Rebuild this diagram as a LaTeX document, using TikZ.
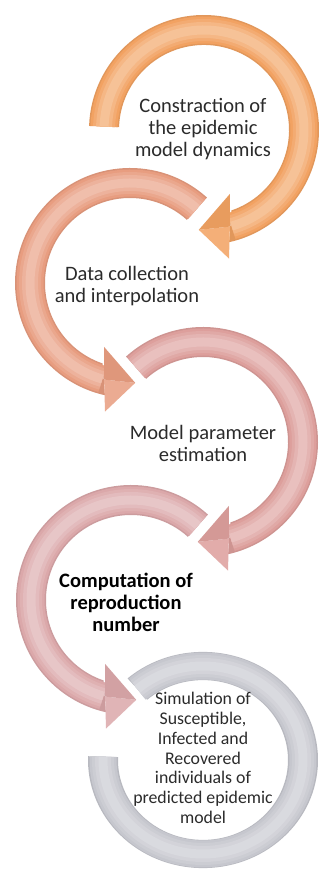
\documentclass[tikz,border=0pt]{standalone}
\usepackage{fontspec}
\setmainfont{Carlito}
\definecolor{cA}{HTML}{F2A262}
\definecolor{cB}{HTML}{E89D80}
\definecolor{cC}{HTML}{DD9F9C}
\definecolor{cD}{HTML}{DBA8AA}
\definecolor{cE}{HTML}{C6C7CE}
\definecolor{txt}{HTML}{2B2B2B}
% start angle, end angle (outer edge), end angle (inner edge), end angle (middle), colour
\newcommand\ringbody[5]{%
  \fill[#5!93!black] (#1:115) arc[start angle=#1,end angle=#2,radius=115]
     -- (#3:85) arc[start angle=#3,end angle=#1,radius=85] -- cycle;
  \foreach \w/\m in {27/100,22/90,16/78,9/66}{%
    \draw[line width=\w pt, #5!\m!white] (#1:100) arc[start angle=#1,end angle=#4,radius=100];}%
}
% inner wing angle, outer wing angle, tip angle, base middle angle, colour
\newcommand\ringhead[5]{%
  \fill[#5!86!white] (#4:100) -- (#2:131) -- (#3:100) -- cycle;
  \fill[#5!96!black] (#4:100) -- (#1:69) -- (#3:100) -- cycle;
}
\tikzset{
  label1/.style={align=center, text=txt, font=\fontsize{20.5}{22}\selectfont, inner sep=0pt},
  label2/.style={align=center, text=txt, font=\fontsize{17.8}{19.8}\selectfont, inner sep=0pt},
}
\begin{document}
\begin{tikzpicture}[x=1pt,y=1pt]
\useasboundingbox (0,0) rectangle (321,869);
\fill[white] (0,0) rectangle (321,869);
% arc 1
\begin{scope}[shift={(204,739)}]
\ringbody{178}{-77.4}{-71.2}{-74}{cA}
\ringhead{-68}{-79}{-93}{-75}{cA}
\end{scope}
% arc 2
\begin{scope}[shift={(130,586)}]
\ringbody{48}{257.4}{251.2}{254}{cB}
\ringhead{248}{259}{273}{255}{cB}
\end{scope}
% arc 3
\begin{scope}[shift={(203,427)}]
\ringbody{132}{-77.4}{-71.2}{-74}{cC}
\ringhead{-68}{-79}{-93}{-75}{cC}
\end{scope}
% arc 4
\begin{scope}[shift={(131,269)}]
\ringbody{48}{257.4}{251.2}{254}{cD}
\ringhead{248}{259}{273}{255}{cD}
\end{scope}
% arc 5
\begin{scope}[shift={(203,109)}, yscale=0.94]
\ringbody{131}{-182}{-182}{-182}{cE}
\end{scope}
% texts
\node[label1] (t1) at (203,740) {Constraction of\\the epidemic\\model dynamics};
\node[label1] (t2) at (127,583) {Data collection\\and interpolation};
\node[label1] (t3) at (203,425.5) {Model parameter\\estimation};
\node[label1, text=black, font=\fontsize{20.5}{22}\selectfont\bfseries] (t4) at (126,267) {Computation of\\reproduction\\number};
\node[label2] (t5) at (203,111) {Simulation of\\Susceptible,\\Infected and\\Recovered\\individuals of\\predicted epidemic\\model};
\end{tikzpicture}
\end{document}
